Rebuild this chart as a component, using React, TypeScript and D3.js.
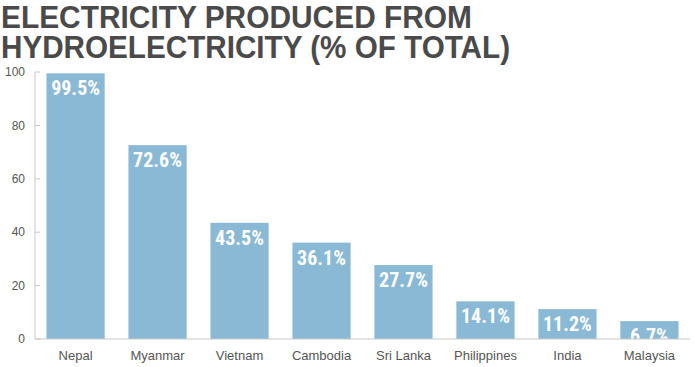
import { useEffect, useRef } from "react";
import * as d3 from "d3";

const countries = ["Nepal", "Myanmar", "Vietnam", "Cambodia", "Sri Lanka", "Philippines", "India", "Malaysia"];
const shares = [99.5, 72.6, 43.5, 36.1, 27.7, 14.1, 11.2, 6.7];
const yTicks = [0, 20, 40, 60, 80, 100];
const titleLines = ["ELECTRICITY PRODUCED FROM", "HYDROELECTRICITY (% OF TOTAL)"];

export default function App() {
  const ref = useRef<SVGSVGElement>(null);

  useEffect(() => {
    const svg = d3.select(ref.current);
    svg.selectAll("*").remove();

    const left = 35, right = 690, top = 72, bottom = 339;

    const x = d3.scaleBand<string>()
      .domain(countries)
      .range([left, right])
      .paddingInner(0.29)
      .paddingOuter(0.14);
    const y = d3.scaleLinear().domain([0, 100]).range([bottom, top]);

    // title, two lines squeezed to the reference widths
    const title = svg.append("g")
      .attr("fill", "#4a4a4a")
      .style("font-family", "'Liberation Sans', Arial, sans-serif")
      .style("font-weight", "bold")
      .style("font-size", "32px");
    title.append("text").attr("x", 1).attr("y", 28)
      .attr("textLength", 471).attr("lengthAdjust", "spacingAndGlyphs")
      .text(titleLines[0]);
    title.append("text").attr("x", 1).attr("y", 58)
      .attr("textLength", 509).attr("lengthAdjust", "spacingAndGlyphs")
      .text(titleLines[1]);

    // clip so labels don't spill below the baseline
    svg.append("defs").append("clipPath").attr("id", "plot-clip")
      .append("rect").attr("x", left).attr("y", 0).attr("width", right - left).attr("height", bottom);

    // y axis
    const yAxis = svg.append("g");
    yAxis.append("line")
      .attr("x1", left).attr("x2", left).attr("y1", y(100)).attr("y2", bottom)
      .attr("stroke", "#c8c8c8");
    yAxis.selectAll("line.tick").data(yTicks).join("line")
      .attr("class", "tick")
      .attr("x1", left).attr("x2", left + 5)
      .attr("y1", d => y(d)).attr("y2", d => y(d))
      .attr("stroke", "#c8c8c8");
    yAxis.selectAll("text").data(yTicks).join("text")
      .attr("x", 25).attr("y", d => y(d)).attr("dy", "0.35em")
      .attr("text-anchor", "end")
      .attr("fill", "#555")
      .style("font-family", "'Liberation Sans', Arial, sans-serif")
      .style("font-size", "12px")
      .text(d => d);

    // bars
    const bars = svg.append("g").attr("clip-path", "url(#plot-clip)");
    bars.selectAll("rect").data(shares).join("rect")
      .attr("x", (_, i) => x(countries[i])!)
      .attr("width", x.bandwidth())
      .attr("y", d => y(d))
      .attr("height", d => bottom - y(d))
      .attr("fill", "#8ab9d5");
    bars.selectAll("text").data(shares).join("text")
      .attr("x", (_, i) => x(countries[i])! + x.bandwidth() / 2)
      .attr("y", d => y(d) + 22)
      .attr("text-anchor", "middle")
      .attr("fill", "#fff")
      .style("font-family", "'Liberation Sans Narrow', 'Roboto Condensed', Arial, sans-serif")
      .style("font-weight", "bold")
      .style("font-size", "20px")
      .text(d => d.toFixed(1) + "%");

    // x baseline and labels
    svg.append("line")
      .attr("x1", left).attr("x2", right).attr("y1", bottom).attr("y2", bottom)
      .attr("stroke", "#c8c8c8");
    svg.append("g").selectAll("text").data(countries).join("text")
      .attr("x", d => x(d)! + x.bandwidth() / 2)
      .attr("y", 360)
      .attr("text-anchor", "middle")
      .attr("fill", "#555")
      .style("font-family", "'Liberation Sans', Arial, sans-serif")
      .style("font-size", "13px")
      .text(d => d);
  }, []);

  return (
    <svg
      ref={ref}
      width={695}
      height={367}
      style={{ position: "absolute", left: 0, top: 0, background: "#fff" }}
    />
  );
}
